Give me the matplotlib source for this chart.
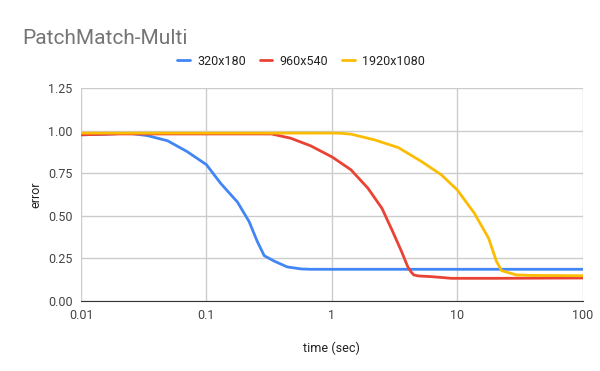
import matplotlib
matplotlib.use("Agg")
import matplotlib.pyplot as plt
from matplotlib.ticker import FixedLocator, FixedFormatter, NullLocator

plt.rcParams['font.family'] = ['Roboto', 'DejaVu Sans']

series_names = ["320x180", "960x540", "1920x1080"]
colors = ["#4285F4", "#EA4335", "#FBBC04"]

t_320 = [0.01, 0.015, 0.02, 0.025, 0.034, 0.049, 0.07, 0.1, 0.13, 0.177, 0.219,
         0.255, 0.289, 0.345, 0.44, 0.57, 0.68, 1, 10, 100]
e_320 = [0.975, 0.978, 0.982, 0.983, 0.97, 0.94, 0.877, 0.80, 0.69, 0.58, 0.466,
         0.348, 0.266, 0.235, 0.20, 0.188, 0.186, 0.186, 0.186, 0.186]

t_960 = [0.01, 0.02, 0.1, 0.33, 0.47, 0.68, 1.01, 1.42, 1.94, 2.51, 3.06, 3.6,
         4.04, 4.27, 4.5, 4.9, 6.2, 9, 20, 100]
e_960 = [0.975, 0.98, 0.98, 0.98, 0.955, 0.91, 0.844, 0.77, 0.662, 0.544, 0.407, 0.29,
         0.20, 0.172, 0.153, 0.147, 0.143, 0.133, 0.133, 0.135]

t_1920 = [0.01, 0.1, 0.98, 1.18, 1.42, 2.2, 3.39, 5.2, 7.48, 10, 13.7, 17.8,
          20.6, 22.6, 29.6, 39, 100]
e_1920 = [0.985, 0.985, 0.985, 0.984, 0.979, 0.945, 0.90, 0.818, 0.74, 0.652, 0.515, 0.368,
          0.231, 0.178, 0.153, 0.15, 0.148]

x_ticks = [0.01, 0.1, 1, 10, 100]
x_labels = ["0.01", "0.1", "1", "10", "100"]
y_ticks = [0.0, 0.25, 0.5, 0.75, 1.0, 1.25]
y_labels = ["0.00", "0.25", "0.50", "0.75", "1.00", "1.25"]

fig = plt.figure(figsize=(6, 3.71), dpi=100)
ax = fig.add_axes([0.135, 0.1887, 0.836, 0.5743])

for t, e, c, n in zip([t_320, t_960, t_1920], [e_320, e_960, e_1920], colors, series_names):
    ax.plot(t, e, color=c, lw=2, label=n, solid_joinstyle='round', solid_capstyle='round')

ax.set_xscale('log')
ax.set_xlim(0.01, 100)
ax.set_ylim(0, 1.25)
ax.xaxis.set_major_locator(FixedLocator(x_ticks))
ax.xaxis.set_major_formatter(FixedFormatter(x_labels))
ax.xaxis.set_minor_locator(NullLocator())
ax.set_yticks(y_ticks)
ax.set_yticklabels(y_labels)
ax.grid(True, color="#cccccc", lw=1)
ax.set_axisbelow(True)
for s in ['top', 'right', 'left']:
    ax.spines[s].set_visible(False)
ax.spines['bottom'].set_color('#333333')
ax.tick_params(length=0, labelsize=9, colors='#444444', pad=6)
ax.set_xlabel("time (sec)", fontsize=9, color='#222222', labelpad=14)
ax.set_ylabel("error", fontsize=9, color='#222222', labelpad=4)

fig.text(0.037, 0.895, "PatchMatch-Multi", fontsize=15, color='#757575', ha='left', va='center')
fig.legend(loc='center', bbox_to_anchor=(0.502, 0.835), ncol=3, frameon=False, fontsize=9,
           handlelength=1.0, handletextpad=0.6, columnspacing=1.1, labelcolor='#222222')

fig.savefig("out.png", dpi=100)
